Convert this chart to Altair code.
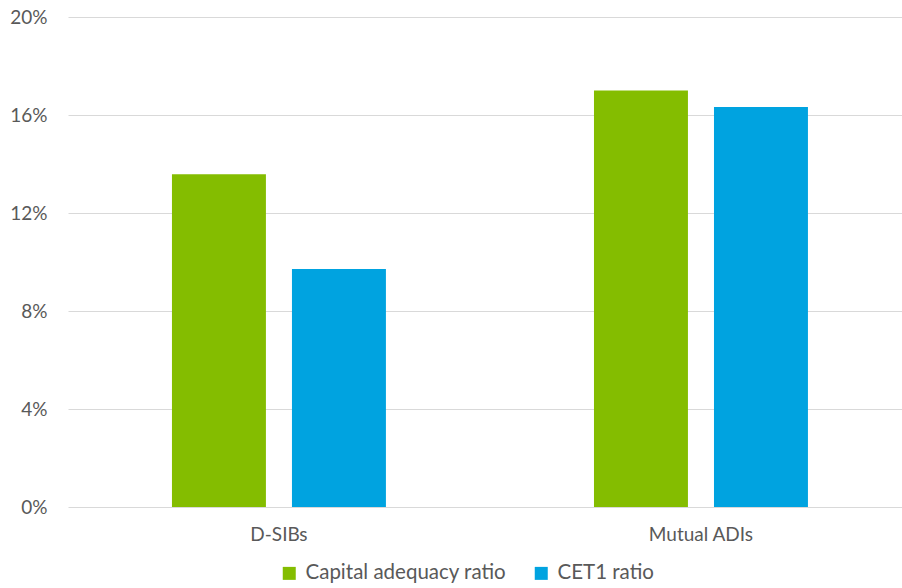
import altair as alt
import pandas as pd

categories = ["D-SIBs", "D-SIBs", "Mutual ADIs", "Mutual ADIs"]
series = ["Capital adequacy ratio", "CET1 ratio", "Capital adequacy ratio", "CET1 ratio"]
values = [0.1358, 0.0971, 0.1700, 0.1633]

series_order = ["Capital adequacy ratio", "CET1 ratio"]
series_colors = ["#84BD00", "#00A3E0"]
y_ticks = [0, 0.04, 0.08, 0.12, 0.16, 0.20]

df = pd.DataFrame({"category": categories, "series": series, "value": values})

FONT = "Lato"
TXT = "#595959"

chart = alt.Chart(df).mark_bar().encode(
    x=alt.X("category:N", title=None,
            scale=alt.Scale(paddingInner=0.493, paddingOuter=0.2346, align=0.525),
            axis=alt.Axis(labelAngle=0, ticks=False, domain=False, labelPadding=18,
                          labelFontSize=19, labelColor=TXT, labelFont=FONT, grid=False)),
    xOffset=alt.XOffset("series:N", sort=series_order,
                        scale=alt.Scale(paddingInner=0.217, paddingOuter=0)),
    y=alt.Y("value:Q", title=None,
            scale=alt.Scale(domain=[0, 0.2], nice=False),
            axis=alt.Axis(values=y_ticks, format=".0%", ticks=False, domain=False,
                          labelPadding=21, labelFontSize=19, labelColor=TXT, labelFont=FONT,
                          gridColor="#D9D9D9", gridWidth=1)),
    color=alt.Color("series:N", title=None,
                    scale=alt.Scale(domain=series_order, range=series_colors),
                    legend=alt.Legend(orient="none", legendX=211, legendY=546,
                                      direction="horizontal", symbolType="square",
                                      symbolSize=169, symbolStrokeWidth=0,
                                      labelFontSize=20.5, labelColor=TXT, labelFont=FONT,
                                      labelLimit=400, labelOffset=6, columnPadding=24)),
).properties(
    width=834, height=490,
    background="white",
    autosize=alt.AutoSizeParams(type="none"),
    padding={"left": 68, "top": 17, "right": 0, "bottom": 81},
).configure_view(stroke=None)

chart.save("out.html", embed_options={"renderer": "svg", "actions": False})
